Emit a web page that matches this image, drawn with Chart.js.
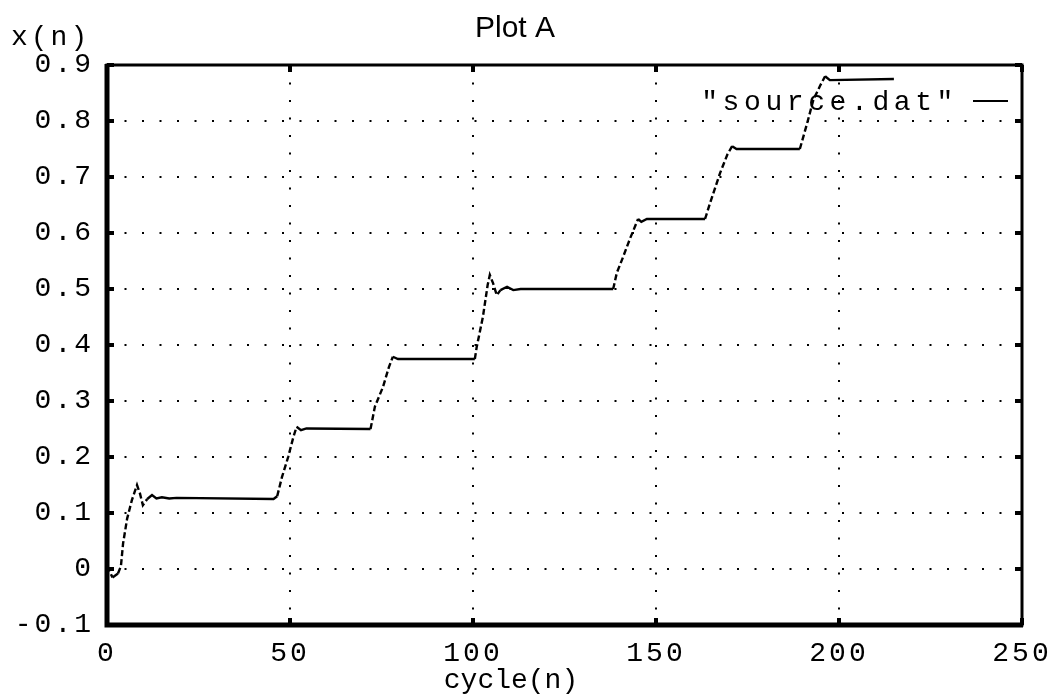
<!DOCTYPE html>
<html>
<head>
<meta charset="utf-8">
<script src="https://cdn.jsdelivr.net/npm/chart.js@4"></script>
<style>
  html, body { margin: 0; padding: 0; background: #fff; }
  #wrap { width: 1053px; height: 696px; }
</style>
</head>
<body>
<div id="wrap"><canvas id="chartCanvas"></canvas></div>
<script>
// --- data ---
const cycle = [0, 1.5, 3, 3.8, 4.4, 5.5, 6.8, 8.2, 9, 9.8, 11, 12.3, 13.5, 15, 17, 19,
  45.5, 46.5, 47.8, 49.5, 50.9, 51.8, 53, 54.5,
  72, 73.2, 75.4, 77, 78.1, 79.5,
  100.5, 101, 102.7, 104, 104.6, 105.5, 106.5, 107.5, 109.3, 111, 113,
  138.3, 139.3, 140.7, 142.9, 145.1, 146, 147.5,
  163.4, 164.8, 167.5, 169.5, 170.8, 172,
  189.3, 191.3, 193, 195, 196.2, 197.5, 215];
const xn = [0.005, -0.015, -0.008, 0.005, 0.046, 0.09, 0.123, 0.15, 0.135, 0.114, 0.125, 0.132, 0.126, 0.128, 0.126, 0.127,
  0.125, 0.13, 0.164, 0.2, 0.235, 0.254, 0.248, 0.251,
  0.25, 0.29, 0.325, 0.36, 0.379, 0.375,
  0.375, 0.396, 0.45, 0.507, 0.525, 0.51, 0.489, 0.498, 0.504, 0.498, 0.5,
  0.5, 0.529, 0.552, 0.59, 0.625, 0.62, 0.625,
  0.625, 0.654, 0.707, 0.74, 0.755, 0.75,
  0.75, 0.796, 0.838, 0.865, 0.88, 0.873, 0.875];
const seriesLabel = '"source.dat"';
const xTicks = [0, 50, 100, 150, 200, 250];
const yTicks = [-0.1, 0, 0.1, 0.2, 0.3, 0.4, 0.5, 0.6, 0.7, 0.8, 0.9];

const MONO = '"Liberation Mono", "DejaVu Sans Mono", monospace';

// --- frame, ticks, title, legend and axis captions ---
const decor = {
  id: "decor",
  beforeDraw(chart) {
    chart.ctx.letterSpacing = "3px";
  },
  afterDatasetsDraw(chart) {
    const { ctx, chartArea: a, scales } = chart;
    ctx.save();
    ctx.strokeStyle = "#000";
    ctx.fillStyle = "#000";
    // tick marks inside the frame
    xTicks.forEach(v => {
      const px = scales.x.getPixelForValue(v);
      ctx.fillRect(px - 2, a.top, 4, 7);
      ctx.fillRect(px - 2, a.bottom - 7, 4, 7);
    });
    yTicks.forEach(v => {
      const py = scales.y.getPixelForValue(v);
      ctx.fillRect(a.left, py - 2, 7, 4);
      ctx.fillRect(a.right - 7, py - 2, 7, 4);
    });
    // frame
    ctx.lineWidth = 3;
    ctx.strokeRect(a.left, a.top, a.right - a.left, a.bottom - a.top);
    ctx.lineWidth = 5;
    ctx.beginPath();
    ctx.moveTo(a.left, a.top - 1);
    ctx.lineTo(a.left, a.bottom);
    ctx.lineTo(a.right + 1, a.bottom);
    ctx.stroke();

    // text
    ctx.textBaseline = "alphabetic";
    ctx.letterSpacing = "0px";
    ctx.font = "30px 'Liberation Sans', Arial, sans-serif";
    ctx.textAlign = "center";
    ctx.fillText("Plot A", 515, 37);

    ctx.font = "28px " + MONO;
    ctx.fillText("cycle(n)", 511, 688);
    ctx.letterSpacing = "3px";
    ctx.textAlign = "left";
    ctx.fillText("x(n)", 11, 45);
    ctx.letterSpacing = "4.6px";
    ctx.textAlign = "right";
    ctx.fillText(seriesLabel, 958, 110);
    ctx.lineWidth = 2;
    ctx.beginPath();
    ctx.moveTo(973, 101);
    ctx.lineTo(1008, 101);
    ctx.stroke();
    ctx.restore();
  }
};

const points = cycle.map((n, i) => ({ x: n, y: xn[i] }));

new Chart(document.getElementById("chartCanvas"), {
  type: "line",
  data: {
    datasets: [{
      label: seriesLabel,
      data: points,
      borderColor: "#000",
      borderWidth: 2.4,
      pointRadius: 0,
      tension: 0,
      segment: {
        // steep parts of the trace look broken in the original print
        borderDash: ctx => {
          const dy = Math.abs(ctx.p1.parsed.y - ctx.p0.parsed.y);
          const dx = Math.abs(ctx.p1.parsed.x - ctx.p0.parsed.x) || 1;
          return dy / dx > 0.006 ? [6, 3] : undefined;
        }
      }
    }]
  },
  options: {
    responsive: true,
    maintainAspectRatio: false,
    animation: false,
    layout: { padding: { top: 65, right: 31, left: 0, bottom: 0 } },
    plugins: {
      legend: { display: false },
      title: { display: false },
      tooltip: { enabled: false }
    },
    scales: {
      x: {
        type: "linear",
        min: 0,
        max: 250,
        afterBuildTicks: s => { s.ticks = xTicks.map(v => ({ value: v })); },
        afterFit: s => { s.height = 71; s.paddingLeft = 0; s.paddingRight = 0; },
        grid: { color: "#000", lineWidth: 2, drawTicks: false },
        border: { display: false, dash: [2, 15.5] },
        ticks: {
          color: "#000",
          padding: 12,
          maxRotation: 0,
          font: { family: MONO, size: 28 }
        }
      },
      y: {
        min: -0.1,
        max: 0.9,
        afterBuildTicks: s => { s.ticks = yTicks.map(v => ({ value: v })); },
        afterFit: s => { s.width = 107; s.paddingTop = 0; s.paddingBottom = 0; },
        grid: { color: "#000", lineWidth: 2, drawTicks: false },
        border: { display: false, dash: [2, 15.5] },
        ticks: {
          color: "#000",
          padding: 13,
          font: { family: MONO, size: 28 },
          callback: v => Math.abs(v) < 1e-9 ? "0" : v.toFixed(1)
        }
      }
    }
  },
  plugins: [decor]
});
</script>
</body>
</html>
